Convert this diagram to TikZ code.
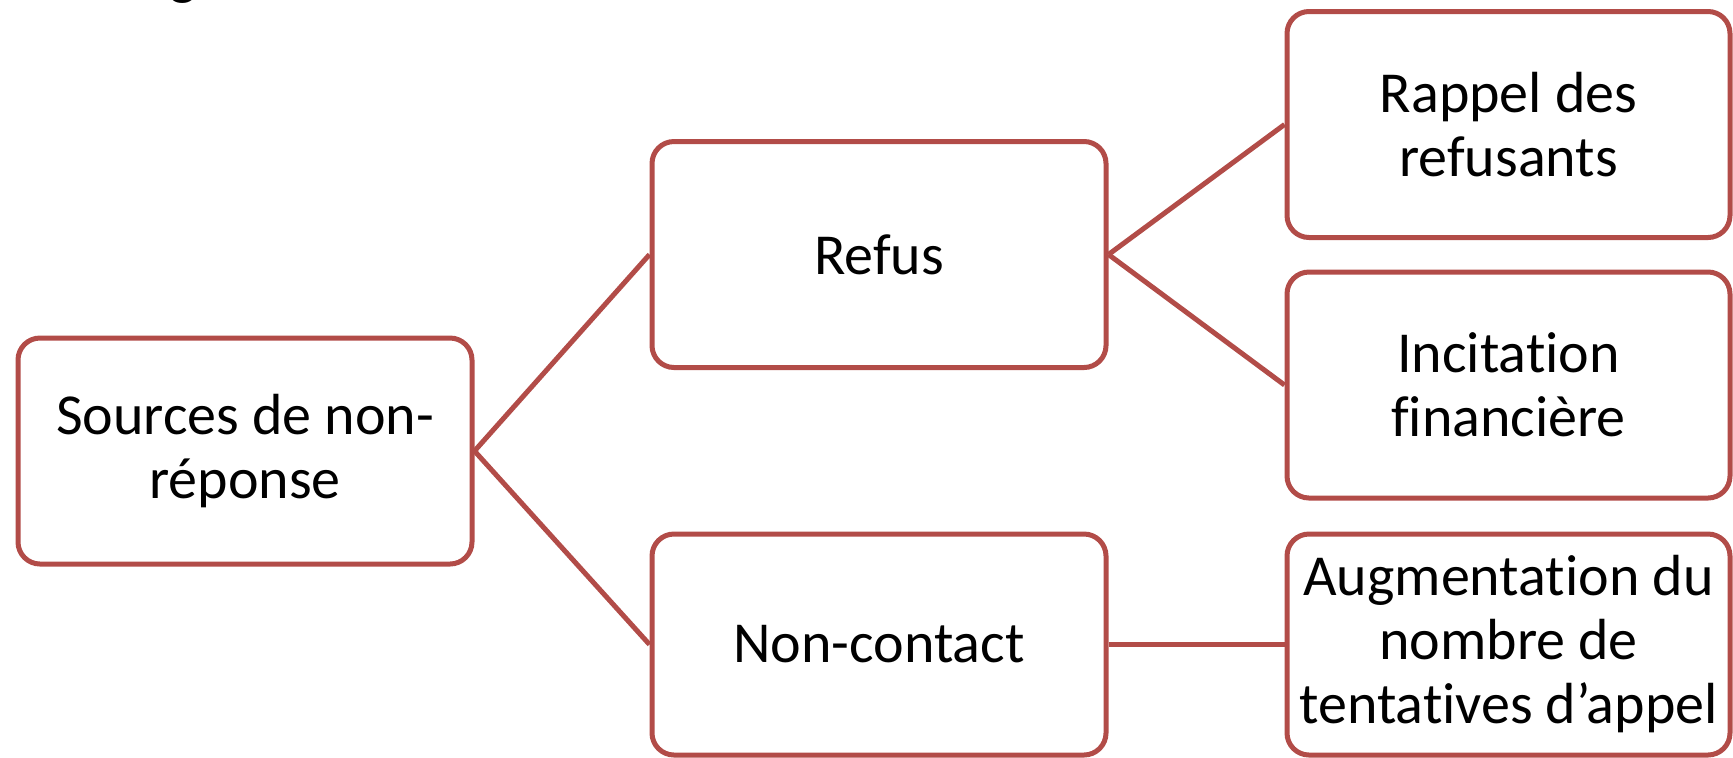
\documentclass[tikz,border=0pt]{standalone}
\usepackage{fontspec}
\setmainfont[Ligatures=NoCommon]{Carlito}
\definecolor{boxred}{RGB}{178,76,72}
\begin{document}
\begin{tikzpicture}[x=0.5pt,y=-0.5pt,
  box/.style={draw=boxred, line width=2.5pt, rounded corners=11pt,
    minimum width=227pt, minimum height=113pt, align=center, inner sep=0pt,
    font=\fontsize{29}{32}\selectfont},
  boxr/.style={box, minimum width=221.5pt},
  link/.style={draw=boxred, line width=2.5pt}]
\useasboundingbox (0,0) rectangle (1733,757);
\clip (0,0) rectangle (1733,757);
\node[anchor=base, font=\fontsize{29}{32}\selectfont, inner sep=0pt] (gfrag) at (183,-7) {g};
\node[box] (src) at (245,451) {Sources de non-\\réponse};
\node[box] (refus) at (879,254.5) {Refus};
\node[box, minimum height=110.5pt] (nc) at (879,644.5) {Non-contact};
\node[boxr] (rappel) at (1508.5,124.5) {Rappel des\\refusants};
\node[boxr] (incit) at (1508.5,385) {Incitation\\financière};
\node[boxr, minimum height=110.5pt] (aug) at (1508.5,644.5) {Augmentation du\\nombre de\\tentatives d’appel};
\draw[link] (src.east) -- (refus.west);
\draw[link] (src.east) -- (nc.west);
\draw[link] (refus.east) -- (rappel.west);
\draw[link] (refus.east) -- (incit.west);
\draw[link] (nc.east) -- (aug.west);
\end{tikzpicture}
\end{document}
